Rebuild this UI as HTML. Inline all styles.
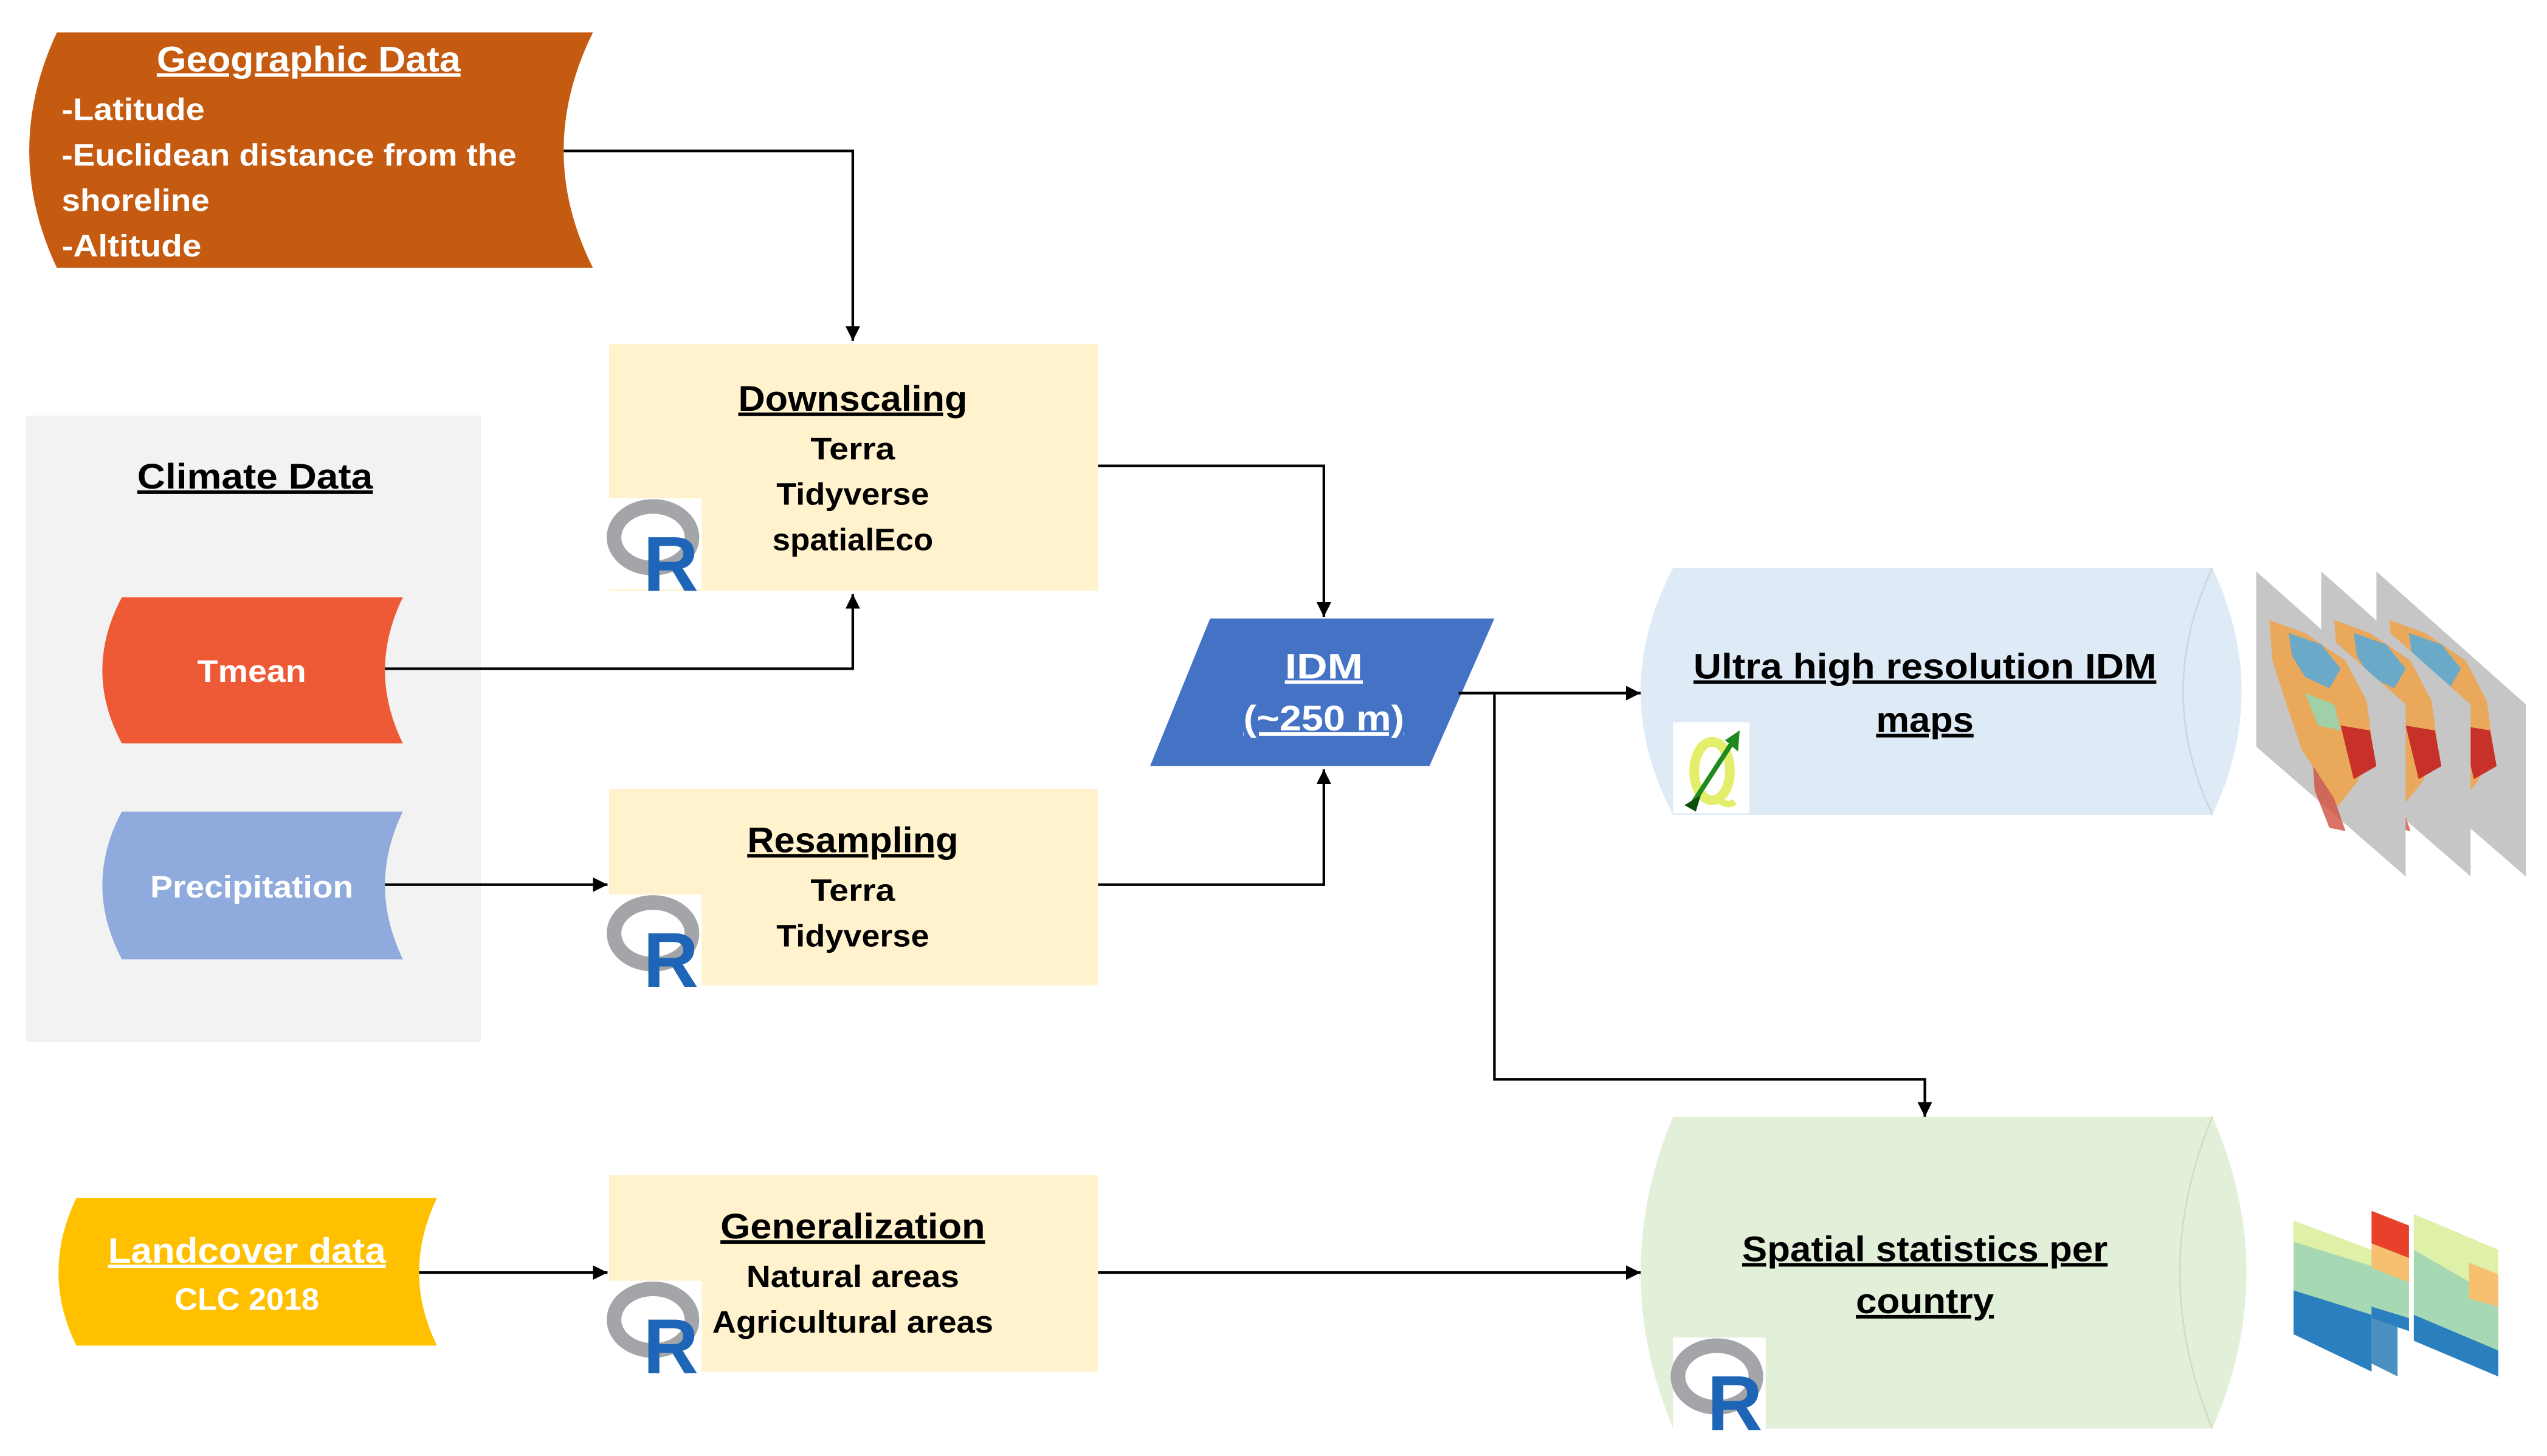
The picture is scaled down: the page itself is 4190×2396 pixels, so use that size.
<!DOCTYPE html>
<html><head><meta charset="utf-8"><style>
html,body{margin:0;padding:0;background:#fff;}
svg{display:block;}
text{font-family:"Liberation Sans",sans-serif;font-weight:bold;}
.u{text-decoration:underline;}
</style></head><body>
<svg width="4190" height="2396" viewBox="0 0 1568 897" preserveAspectRatio="none" xmlns="http://www.w3.org/2000/svg">
<defs>
<marker id="a" viewBox="0 0 10 10" refX="10" refY="5" markerWidth="9" markerHeight="9" markerUnits="userSpaceOnUse" orient="auto"><path d="M0,0 L10,5 L0,10 Z" fill="#000"/></marker>
<g id="rlogo">
<rect x="0" y="0" width="57" height="56" fill="#fff"/>
<ellipse cx="27" cy="24" rx="24" ry="19" fill="none" stroke="#a4a5a9" stroke-width="9"/>
<text x="21" y="57" font-size="48" fill="#1f65b7" textLength="34" lengthAdjust="spacingAndGlyphs">R</text>
</g>
<g id="map">
<path d="M0,0 L92,82 L92,188 L0,108 Z" fill="#c6c6c6"/>
<path d="M8,30 L30,38 L55,55 L68,80 L72,110 L62,130 L50,145 L40,128 L28,110 L18,80 L10,55 Z" fill="#e9a85a"/>
<path d="M20,38 L40,45 L52,60 L45,72 L30,65 L22,52 Z" fill="#6aa9c8"/>
<path d="M30,75 L48,82 L52,98 L38,95 Z" fill="#9fd0a8"/>
<path d="M52,95 L70,98 L74,120 L60,128 Z" fill="#c8302a"/>
<path d="M35,120 L48,140 L55,160 L45,158 L36,135 Z" fill="#d05040" opacity="0.8"/>
</g>
</defs>

<rect x="16" y="256" width="280" height="386" fill="#f2f2f2"/>

<path d="M35,20 L365,20 Q329,93 365,165 L35,165 Q1,93 35,20 Z" fill="#c55a11"/>
<text class="u" x="190" y="44" font-size="22" fill="#fff" text-anchor="middle" textLength="187" lengthAdjust="spacingAndGlyphs">Geographic Data</text>
<g fill="#fff" font-size="19">
<text x="38" y="74" textLength="88" lengthAdjust="spacingAndGlyphs">-Latitude</text>
<text x="38" y="102" textLength="280" lengthAdjust="spacingAndGlyphs">-Euclidean distance from the</text>
<text x="38" y="130" textLength="91" lengthAdjust="spacingAndGlyphs">shoreline</text>
<text x="38" y="158" textLength="86" lengthAdjust="spacingAndGlyphs">-Altitude</text>
</g>

<text class="u" x="157" y="301" font-size="22" fill="#000" text-anchor="middle" textLength="145" lengthAdjust="spacingAndGlyphs">Climate Data</text>

<path d="M75,368 L248,368 Q226,413 248,458 L75,458 Q51,413 75,368 Z" fill="#ed5a35"/>
<text x="155" y="420" font-size="19" fill="#fff" text-anchor="middle" textLength="67" lengthAdjust="spacingAndGlyphs">Tmean</text>
<path d="M75,500 L248,500 Q226,545 248,591 L75,591 Q51,545 75,500 Z" fill="#8faadc"/>
<text x="155" y="553" font-size="19" fill="#fff" text-anchor="middle" textLength="125" lengthAdjust="spacingAndGlyphs">Precipitation</text>
<path d="M47,738 L269,738 Q247,784 269,829 L47,829 Q25,784 47,738 Z" fill="#ffc000"/>
<text class="u" x="152" y="778" font-size="22" fill="#fff" text-anchor="middle" textLength="171" lengthAdjust="spacingAndGlyphs">Landcover data</text>
<text x="152" y="807" font-size="19" fill="#fff" text-anchor="middle" textLength="89" lengthAdjust="spacingAndGlyphs">CLC 2018</text>

<rect x="375" y="212" width="301" height="152" fill="#fff2cc"/>
<text class="u" x="525" y="253" font-size="22" text-anchor="middle" textLength="141" lengthAdjust="spacingAndGlyphs">Downscaling</text>
<text x="525" y="283" font-size="19" text-anchor="middle" textLength="52" lengthAdjust="spacingAndGlyphs">Terra</text>
<text x="525" y="311" font-size="19" text-anchor="middle" textLength="94" lengthAdjust="spacingAndGlyphs">Tidyverse</text>
<text x="525" y="339" font-size="19" text-anchor="middle" textLength="99" lengthAdjust="spacingAndGlyphs">spatialEco</text>
<use href="#rlogo" x="375" y="307"/>

<rect x="375" y="486" width="301" height="121" fill="#fff2cc"/>
<text class="u" x="525" y="525" font-size="22" text-anchor="middle" textLength="130" lengthAdjust="spacingAndGlyphs">Resampling</text>
<text x="525" y="555" font-size="19" text-anchor="middle" textLength="52" lengthAdjust="spacingAndGlyphs">Terra</text>
<text x="525" y="583" font-size="19" text-anchor="middle" textLength="94" lengthAdjust="spacingAndGlyphs">Tidyverse</text>
<use href="#rlogo" x="375" y="551"/>

<rect x="375" y="724" width="301" height="121" fill="#fff2cc"/>
<text class="u" x="525" y="763" font-size="22" text-anchor="middle" textLength="163" lengthAdjust="spacingAndGlyphs">Generalization</text>
<text x="525" y="793" font-size="19" text-anchor="middle" textLength="131" lengthAdjust="spacingAndGlyphs">Natural areas</text>
<text x="525" y="821" font-size="19" text-anchor="middle" textLength="173" lengthAdjust="spacingAndGlyphs">Agricultural areas</text>
<use href="#rlogo" x="375" y="789"/>

<path d="M745,381 L920,381 L880,472 L708,472 Z" fill="#4472c4"/>
<text class="u" x="815" y="418" font-size="22" fill="#fff" text-anchor="middle" textLength="48" lengthAdjust="spacingAndGlyphs">IDM</text>
<text class="u" x="815" y="450" font-size="22" fill="#fff" text-anchor="middle" textLength="99" lengthAdjust="spacingAndGlyphs">(~250 m)</text>

<path d="M1030,350 L1362,350 Q1398,426 1362,502 L1030,502 Q990,426 1030,350 Z" fill="#deebf7"/>
<path d="M1362,350 Q1326,426 1362,502" fill="none" stroke="#c9d6e3" stroke-width="1"/>
<text class="u" x="1185" y="418" font-size="22" text-anchor="middle" textLength="285" lengthAdjust="spacingAndGlyphs">Ultra high resolution IDM</text>
<text class="u" x="1185" y="451" font-size="22" text-anchor="middle" textLength="60" lengthAdjust="spacingAndGlyphs">maps</text>
<rect x="1030" y="445" width="47" height="56" fill="#fff"/>
<ellipse cx="1054" cy="475" rx="11" ry="18" fill="none" stroke="#e3ef6a" stroke-width="6"/>
<path d="M1056,490 Q1062,498 1068,494" fill="none" stroke="#e3ef6a" stroke-width="4"/>
<line x1="1042" y1="495" x2="1068" y2="455" stroke="#1e8a1e" stroke-width="3"/>
<path d="M1071,450 L1070,463 L1062,456 Z" fill="#1e8a1e"/>
<path d="M1037,496 L1047,490 L1044,500 Z" fill="#0d4d0d"/>

<path d="M1030,688 L1362,688 Q1404,784 1362,880 L1030,880 Q990,784 1030,688 Z" fill="#e2f0d9"/>
<path d="M1362,688 Q1322,784 1362,880" fill="none" stroke="#cfdcc6" stroke-width="1"/>
<text class="u" x="1185" y="777" font-size="22" text-anchor="middle" textLength="225" lengthAdjust="spacingAndGlyphs">Spatial statistics per</text>
<text class="u" x="1185" y="809" font-size="22" text-anchor="middle" textLength="85" lengthAdjust="spacingAndGlyphs">country</text>
<use href="#rlogo" x="1030" y="824"/>

<!-- Map stack: back to front -->
<use href="#map" x="1463" y="352"/>
<use href="#map" x="1429" y="352"/>
<use href="#map" x="1389" y="352"/>

<!-- Chart stack -->
<g>
<path d="M1412,752 L1460,770 L1460,845 L1412,822 Z" fill="#a6d8b4"/>
<path d="M1412,795 L1460,810 L1460,845 L1412,822 Z" fill="#2a7fbf"/>
<path d="M1412,752 L1460,770 L1460,780 L1412,765 Z" fill="#dff0a8"/>
<path d="M1460,780 L1476,788 L1476,848 L1460,840 Z" fill="#4a90c0"/>
<path d="M1460,746 L1483,755 L1483,820 L1460,812 Z" fill="#a6d8b4"/>
<path d="M1460,746 L1483,755 L1483,775 L1460,766 Z" fill="#e8402a"/>
<path d="M1460,766 L1483,775 L1483,790 L1460,781 Z" fill="#f6c070"/>
<path d="M1460,805 L1483,812 L1483,820 L1460,812 Z" fill="#2a7fbf"/>
<path d="M1486,748 L1538,770 L1538,848 L1486,826 Z" fill="#a6d8b4"/>
<path d="M1486,748 L1538,770 L1538,800 L1486,770 Z" fill="#dff0a8"/>
<path d="M1520,778 L1538,785 L1538,805 L1520,800 Z" fill="#f6c070"/>
<path d="M1486,810 L1538,832 L1538,848 L1486,826 Z" fill="#2a7fbf"/>
</g>

<g fill="none" stroke="#000" stroke-width="1.6">
<path d="M347,93 L525,93 L525,210" marker-end="url(#a)"/>
<path d="M237,412 L525,412 L525,366" marker-end="url(#a)"/>
<path d="M676,287 L815,287 L815,380" marker-end="url(#a)"/>
<path d="M676,545 L815,545 L815,474" marker-end="url(#a)"/>
<path d="M898,427 L1010,427" marker-end="url(#a)"/>
<path d="M920,427 L920,665 L1185,665 L1185,688" marker-end="url(#a)"/>
<path d="M237,545 L374,545" marker-end="url(#a)"/>
<path d="M258,784 L374,784" marker-end="url(#a)"/>
<path d="M676,784 L1010,784" marker-end="url(#a)"/>
</g>
</svg>
</body></html>
